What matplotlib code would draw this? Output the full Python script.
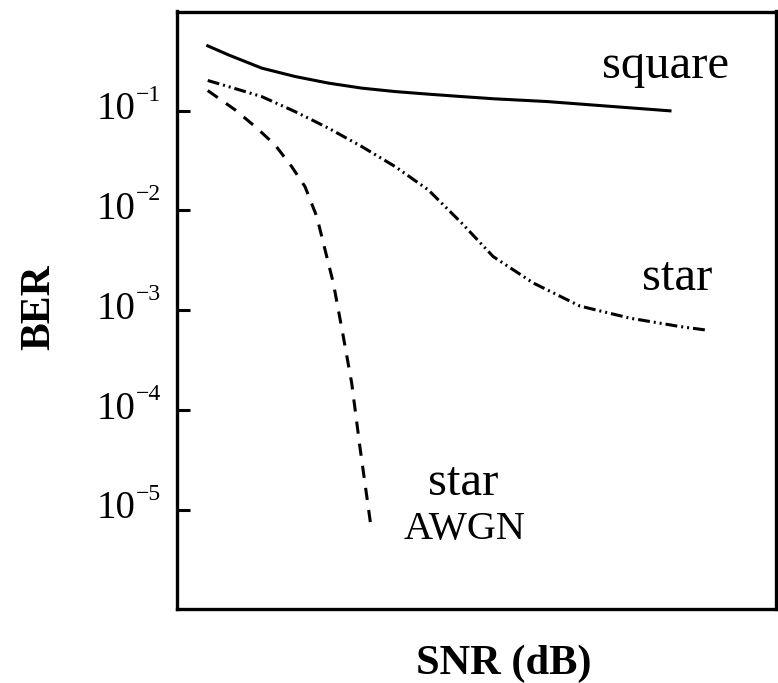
"""BER vs SNR for square / star constellations (log scale)."""
import math

import matplotlib
matplotlib.use("Agg")
import matplotlib.pyplot as plt
from matplotlib.ticker import FixedLocator, NullLocator, NullFormatter

plt.rcParams.update({
    "font.family": ["Liberation Serif", "DejaVu Serif"],
})

# curves (SNR on an unlabelled dB axis, BER)
square_snr = [1.54, 2.57, 4.24, 5.91, 7.58, 9.25, 10.92, 12.59, 14.26, 15.93, 18.52, 21.84, 24.69]
square_ber = [0.4446, 0.3614, 0.2661, 0.2193, 0.1883, 0.1677, 0.1549, 0.1459,
              0.1380, 0.1309, 0.1231, 0.1096, 0.0993]

star_snr = [1.54, 2.57, 4.24, 5.91, 7.58, 9.25, 10.92, 12.59, 14.26, 15.84,
            17.85, 20.18, 22.69, 25.19, 26.44]
star_ber = [0.2000, 0.1739, 0.1380, 0.0977, 0.0667, 0.0436, 0.0275, 0.0160,
            0.00745, 0.00344, 0.00187, 0.00110, 0.000832, 0.000686, 0.000635]

awgn_snr = [1.54, 2.91, 3.91, 4.91, 5.74, 6.41, 7.00, 7.83, 8.33, 8.75, 9.17, 9.75]
awgn_ber = [0.1585, 0.1016, 0.0692, 0.0453, 0.0275, 0.0173, 0.00867, 0.00187,
            5.43e-4, 1.86e-4, 4.14e-5, 6.05e-6]

ytick_vals = [1e-1, 1e-2, 1e-3, 1e-4, 1e-5]

W, H = 778, 683
fig = plt.figure(figsize=(W / 100, H / 100), dpi=100)
ax = fig.add_axes([177 / W, 74 / H, 599 / W, 597.5 / H])

lw = 2.2
ax.plot(square_snr, square_ber, color="black", lw=lw)
ax.plot(star_snr, star_ber, color="black", lw=lw,
        dashes=[3.9, 1.3, 0.65, 1.3, 0.65, 1.3])
ax.plot(awgn_snr, awgn_ber, color="black", lw=lw, dashes=[4.0, 3.3])

ax.set_yscale("log")
ax.set_xlim(0, 30)
ax.set_ylim(10 ** -5.993, 10 ** -0.008)

ax.xaxis.set_major_locator(NullLocator())
ax.xaxis.set_minor_locator(NullLocator())
ax.yaxis.set_major_locator(FixedLocator(ytick_vals))
ax.yaxis.set_minor_locator(NullLocator())
ax.yaxis.set_major_formatter(NullFormatter())
ax.tick_params(axis="y", direction="in", length=9, width=2.2)
for sp in ax.spines.values():
    sp.set_linewidth(2.4)

# tick labels "10" with raised exponent, drawn as plain text
trans = ax.get_yaxis_transform()
for v in ytick_vals:
    e = round(math.log10(v))
    ax.annotate("10", xy=(0, v), xycoords=trans, xytext=(-42, 1),
                textcoords="offset pixels", ha="right", va="center",
                fontsize=28, annotation_clip=False)
    ax.annotate("\u2212%d" % abs(e), xy=(0, v), xycoords=trans,
                xytext=(-41, 10), textcoords="offset pixels",
                ha="left", va="baseline", fontsize=17, annotation_clip=False)

fig.text(39 / W, 1 - 307 / H, "BER", fontsize=30, fontweight="bold",
         rotation=90, ha="center", va="center")
fig.text(504 / W, 1 - 674 / H, "SNR (dB)", fontsize=30.5,
         fontweight="bold", ha="center", va="baseline")

# curve labels
fig.text(666 / W, 1 - 78 / H, "square", fontsize=35, ha="center", va="baseline")
fig.text(677 / W, 1 - 290 / H, "star", fontsize=35, ha="center", va="baseline")
fig.text(463 / W, 1 - 495 / H, "star", fontsize=35, ha="center", va="baseline")
fig.text(465 / W, 1 - 539 / H, "AWGN", fontsize=29, ha="center", va="baseline")

fig.savefig("out.png", dpi=100)
